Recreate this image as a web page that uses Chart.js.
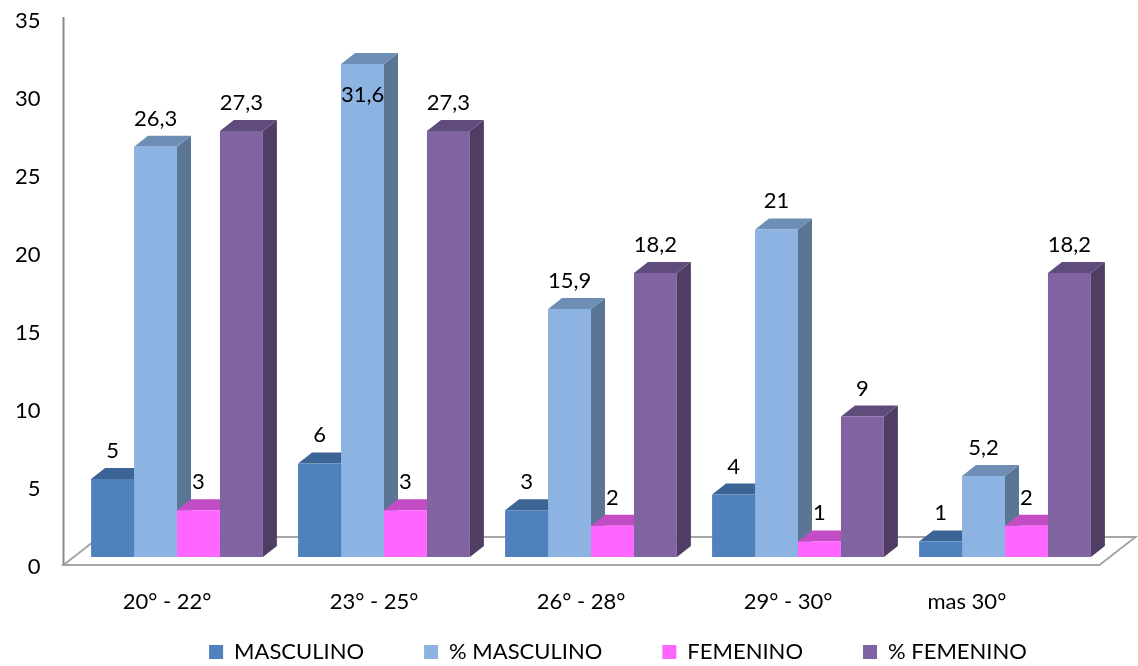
<!DOCTYPE html>
<html>
<head>
<meta charset="utf-8">
<script src="https://cdn.jsdelivr.net/npm/chart.js@4/dist/chart.umd.min.js"></script>
<style>
    html, body { margin: 0; padding: 0; background: #ffffff; }
    #wrap { width: 1138px; height: 666px; }
</style>
</head>
<body>
<div id="wrap"><canvas id="edadChart" width="1138" height="666"></canvas></div>
<script>
(function() {
    'use strict';

    // Chart data
    // (the last label keeps its trailing blanks: the original sits left of its group)
    const categories = ['20° - 22°', '23° - 25°', '26° - 28°', '29° - 30°', 'mas 30°          '];
    const masculino = [5, 6, 3, 4, 1];
    const pctMasculino = [26.3, 31.6, 15.9, 21, 5.2];
    const femenino = [3, 3, 2, 1, 2];
    const pctFemenino = [27.3, 27.3, 18.2, 9, 18.2];
    const seriesNames = ['MASCULINO', '% MASCULINO', 'FEMENINO', '% FEMENINO'];
    const yTicks = [0, 5, 10, 15, 20, 25, 30, 35];

    // front / top / side colours for each series
    const faceColors = [
        { front: '#4F81BD', top: '#3C6494', side: '#3A5F8B' },
        { front: '#8DB3E2', top: '#6E8EB6', side: '#5B7594' },
        { front: '#FF66FF', top: '#C24DC4', side: '#B048B0' },
        { front: '#8064A2', top: '#5F4B7C', side: '#4F3D63' }
    ];

    const FONT = 'Lato';
    const depth = { dx: 14, dy: 11 };      // bar depth in pixels
    const floorDepth = { dx: 36, dy: 28 }; // floor depth in pixels

    function formatValue(v) {
        return String(v).replace('.', ',');
    }

    // Draws the floor, the axis line and the top/side faces of every bar
    const bars3d = {
        id: 'bars3d',
        beforeDatasetsDraw(chart) {
            const { ctx, chartArea, scales: { x, y } } = chart;
            const y0 = y.getPixelForValue(0);
            const fl = chartArea.left - 10;
            const fr = chartArea.right - 9;
            const fy = y0 + 8;

            ctx.save();
            // floor
            ctx.beginPath();
            ctx.moveTo(fl, fy);
            ctx.lineTo(fr, fy);
            ctx.lineTo(fr + floorDepth.dx, fy - floorDepth.dy);
            ctx.lineTo(fl + floorDepth.dx, fy - floorDepth.dy);
            ctx.closePath();
            ctx.fillStyle = '#ffffff';
            ctx.fill();
            ctx.lineWidth = 2;
            ctx.strokeStyle = '#A6A6A6';
            ctx.stroke();

            // vertical axis line
            ctx.beginPath();
            ctx.moveTo(fl, fy);
            ctx.lineTo(fl, y.getPixelForValue(yTicks[yTicks.length - 1]) + 6);
            ctx.strokeStyle = '#898989';
            ctx.stroke();

            // top and side faces, left to right
            for (let i = 0; i < categories.length; i++) {
                chart.data.datasets.forEach((ds, d) => {
                    const bar = chart.getDatasetMeta(d).data[i];
                    if (!bar) return;
                    const left = bar.x - bar.width / 2;
                    const right = bar.x + bar.width / 2;
                    const top = bar.y;
                    const base = bar.base;

                    ctx.beginPath();
                    ctx.moveTo(right, top);
                    ctx.lineTo(right + depth.dx, top - depth.dy);
                    ctx.lineTo(right + depth.dx, base - depth.dy);
                    ctx.lineTo(right, base);
                    ctx.closePath();
                    ctx.fillStyle = faceColors[d].side;
                    ctx.fill();

                    ctx.beginPath();
                    ctx.moveTo(left, top);
                    ctx.lineTo(left + depth.dx, top - depth.dy);
                    ctx.lineTo(right + depth.dx, top - depth.dy);
                    ctx.lineTo(right, top);
                    ctx.closePath();
                    ctx.fillStyle = faceColors[d].top;
                    ctx.fill();
                });
            }
            ctx.restore();
        },
        afterDatasetsDraw(chart) {
            const { ctx } = chart;
            ctx.save();
            ctx.font = '22px ' + FONT;
            ctx.fillStyle = '#000000';
            ctx.textAlign = 'center';
            ctx.textBaseline = 'middle';
            chart.data.datasets.forEach((ds, d) => {
                chart.getDatasetMeta(d).data.forEach((bar, i) => {
                    let ly = bar.y - depth.dy - 17;
                    // no room above the plot: put the label inside the bar
                    if (ly < 40) ly = bar.y + 31;
                    ctx.fillText(formatValue(ds.data[i]), bar.x, ly);
                });
            });
            ctx.restore();
        },
        afterLayout(chart) {
            // place the legend like the original: centred under the floor,
            // wide gaps between items but sitting close to the bottom
            const lg = chart.legend;
            if (!lg) return;
            const shift = 618 - (lg.left + lg.right) / 2;
            lg.left += shift;
            lg.right += shift;
            lg.top = 581;
            lg.bottom = chart.height;
        }
    };

    const seriesData = [masculino, pctMasculino, femenino, pctFemenino];

    new Chart(document.getElementById('edadChart'), {
        type: 'bar',
        data: {
            labels: categories,
            datasets: seriesNames.map((name, d) => ({
                label: name,
                data: seriesData[d],
                backgroundColor: faceColors[d].front,
                borderWidth: 0,
                categoryPercentage: 0.83,
                barPercentage: 1.0
            }))
        },
        options: {
            responsive: false,
            animation: false,
            events: [],
            layout: {
                padding: { top: 11, right: 29.5, bottom: 0, left: 0 }
            },
            scales: {
                x: {
                    grid: { display: false, drawTicks: false },
                    border: { display: false },
                    afterFit: function(scale) { scale.height = 60; },
                    ticks: {
                        color: '#000000',
                        font: { family: FONT, size: 22 },
                        padding: 32,
                        labelOffset: -10,
                        maxRotation: 0
                    }
                },
                y: {
                    min: 0,
                    max: 35,
                    grid: { display: false, drawTicks: false },
                    border: { display: false },
                    afterFit: function(scale) {
                        scale.width = 73.5;
                        scale.paddingTop = 0;
                        scale.paddingBottom = 0;
                    },
                    afterBuildTicks: function(scale) {
                        scale.ticks = yTicks.map(v => ({ value: v }));
                    },
                    ticks: {
                        color: '#000000',
                        font: { family: FONT, size: 22 },
                        padding: 33,
                        labelOffset: 10
                    }
                }
            },
            plugins: {
                legend: {
                    position: 'bottom',
                    maxHeight: 49,
                    labels: {
                        color: '#000000',
                        font: { family: FONT, size: 22 },
                        boxWidth: 14,
                        boxHeight: 14,
                        padding: 60
                    }
                },
                tooltip: { enabled: false },
                title: { display: false }
            }
        },
        plugins: [bars3d]
    });
})();
</script>
</body>
</html>
